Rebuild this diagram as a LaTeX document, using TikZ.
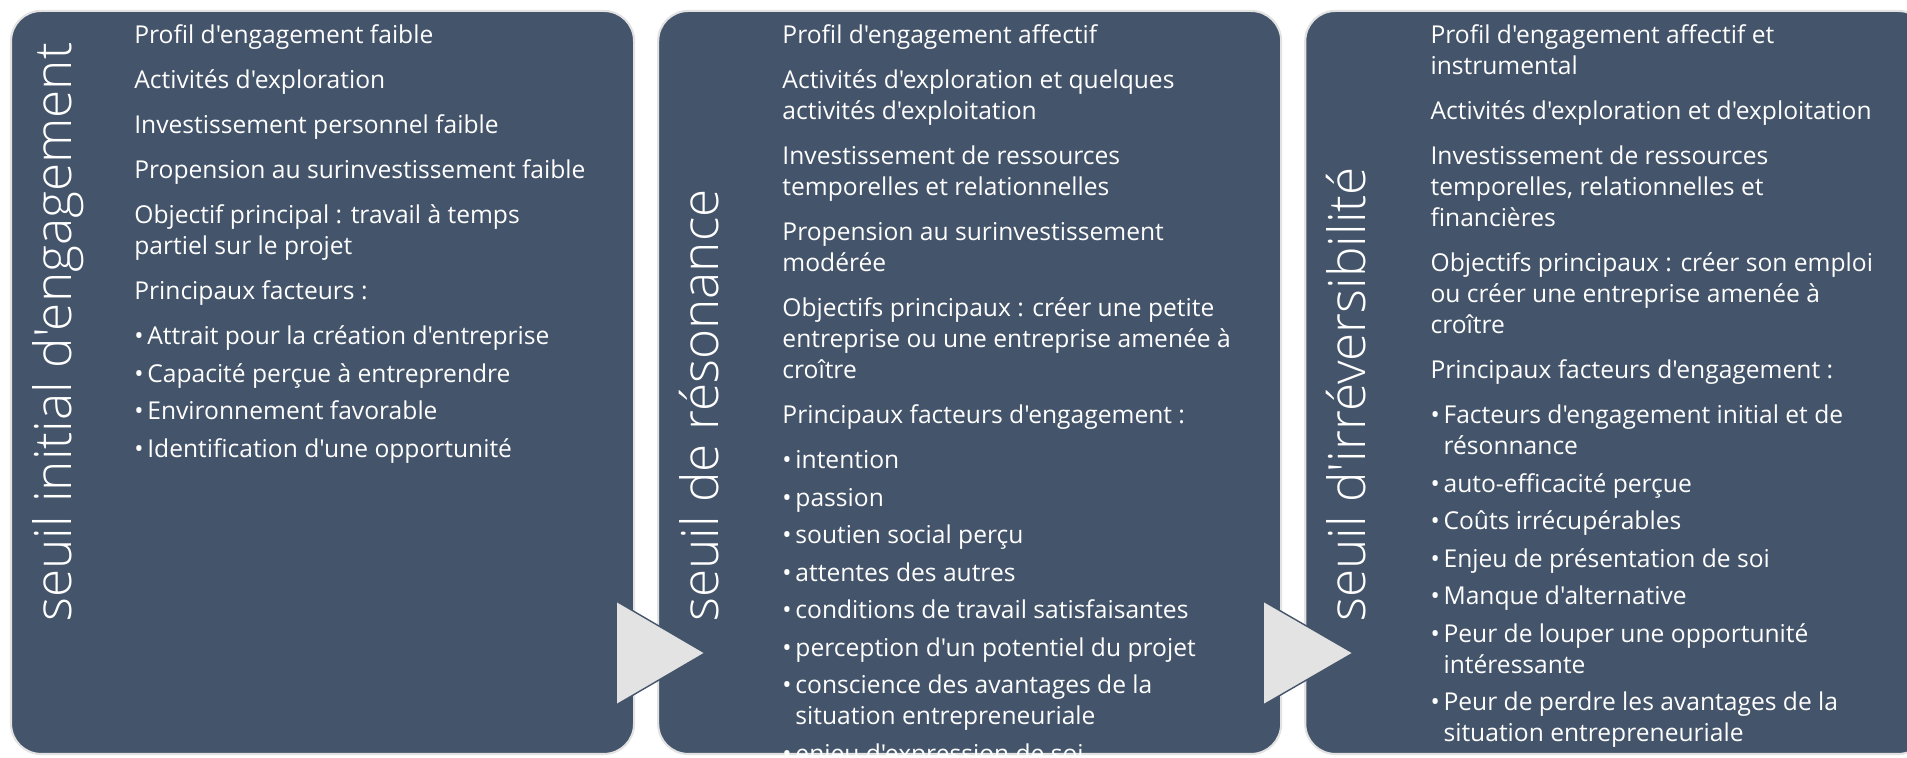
\documentclass[tikz,border=0pt]{standalone}
\usepackage{fontspec}
\usepackage{tikz}
\usetikzlibrary{positioning,calc}
\newfontfamily\bodyfont{Open Sans}
\IfFontExistsTF{Open Sans Light}{\newfontfamily\titlefont{Open Sans Light}}{\newfontfamily\titlefont{Open Sans}}
\definecolor{SlatePanel}{RGB}{68, 84, 106}
\definecolor{EdgeGrey}{RGB}{226, 226, 226}
\definecolor{ArrowGrey}{RGB}{227, 227, 227}
\newcommand{\puce}{\makebox[0.26cm][l]{\textbullet}}
\newcommand{\retrait}{\hspace*{0.26cm}}

\begin{document}
\begin{tikzpicture}[
  node distance=0.44cm,
  panel/.style={rectangle, draw=EdgeGrey, fill=SlatePanel, line width=1.2pt, rounded corners=0.6cm, minimum width=12.46cm, minimum height=14.86cm, inner sep=0pt},
  phase/.style={rotate=90, anchor=base west, inner sep=0pt, text=white, font=\titlefont\fontsize{29.2pt}{34pt}\selectfont},
  body/.style={anchor=north west, inner sep=0pt, align=left, text=white, font=\bodyfont\fontsize{14pt}{17.64pt}\selectfont},
  chevron/.style={fill=ArrowGrey, draw=SlatePanel, line width=0.8pt, line join=miter}
]
  \useasboundingbox (0,0) rectangle (38.14,15.14);
  \clip (0,0) rectangle (38.14,15.14);

  % the three thresholds
  \node[panel, anchor=south west] (initial) at (0.2,0.04) {};
  \node[panel, right=of initial] (resonance) {};
  \node[panel, right=of resonance] (irrev) {};

  % chevrons between panels
  \draw[chevron] ($(initial.south east)+(-0.38,1.0)$) -- ++(1.78,1.04) -- ++(-1.78,1.04) -- cycle;
  \draw[chevron] ($(resonance.south east)+(-0.38,1.0)$) -- ++(1.8,1.04) -- ++(-1.8,1.04) -- cycle;

  % vertical titles
  \node[phase] (ttlinitial) at ($(initial.south west)+(1.22,2.66)$) {seuil initial d'engagement};
  \node[phase] (ttlresonance) at ($(resonance.south west)+(1.22,2.66)$) {seuil de résonance};
  \node[phase] (ttlirrev) at ($(irrev.south west)+(1.22,2.66)$) {seuil d'irréversibilité};

  \node[body] (txtinitial) at ($(initial.north west)+(2.48,-0.29)$) {Profil d'engagement faible\\[0.28cm]
    Activités d'exploration\\[0.28cm]
    Investissement personnel faible\\[0.28cm]
    Propension au surinvestissement faible\\[0.28cm]
    Objectif principal : travail à temps\\
    partiel sur le projet\\[0.28cm]
    Principaux facteurs :\\[0.28cm]
    \puce Attrait pour la création d'entreprise\\[0.13cm]
    \puce Capacité perçue à entreprendre\\[0.13cm]
    \puce Environnement favorable\\[0.13cm]
    \puce Identification d'une opportunité};

  \node[body] (txtresonance) at ($(resonance.north west)+(2.5,-0.29)$) {Profil d'engagement affectif\\[0.28cm]
    Activités d'exploration et quelques\\
    activités d'exploitation\\[0.28cm]
    Investissement de ressources\\
    temporelles et relationnelles\\[0.28cm]
    Propension au surinvestissement\\
    modérée\\[0.28cm]
    Objectifs principaux : créer une petite\\
    entreprise ou une entreprise amenée à\\
    croître\\[0.28cm]
    Principaux facteurs d'engagement :\\[0.28cm]
    \puce intention\\[0.13cm]
    \puce passion\\[0.13cm]
    \puce soutien social perçu\\[0.13cm]
    \puce attentes des autres\\[0.13cm]
    \puce conditions de travail satisfaisantes\\[0.13cm]
    \puce perception d'un potentiel du projet\\[0.13cm]
    \puce conscience des avantages de la\\
    \retrait situation entrepreneuriale\\[0.13cm]
    \puce enjeu d'expression de soi};

  \node[body] (txtirrev) at ($(irrev.north west)+(2.52,-0.29)$) {Profil d'engagement affectif et\\
    instrumental\\[0.28cm]
    Activités d'exploration et d'exploitation\\[0.28cm]
    Investissement de ressources\\
    temporelles, relationnelles et\\
    financières\\[0.28cm]
    Objectifs principaux : créer son emploi\\
    ou créer une entreprise amenée à\\
    croître\\[0.28cm]
    Principaux facteurs d'engagement :\\[0.28cm]
    \puce Facteurs d'engagement initial et de\\
    \retrait résonnance\\[0.13cm]
    \puce auto-efficacité perçue\\[0.13cm]
    \puce Coûts irrécupérables\\[0.13cm]
    \puce Enjeu de présentation de soi\\[0.13cm]
    \puce Manque d'alternative\\[0.13cm]
    \puce Peur de louper une opportunité\\
    \retrait intéressante\\[0.13cm]
    \puce Peur de perdre les avantages de la\\
    \retrait situation entrepreneuriale};
\end{tikzpicture}
\end{document}
